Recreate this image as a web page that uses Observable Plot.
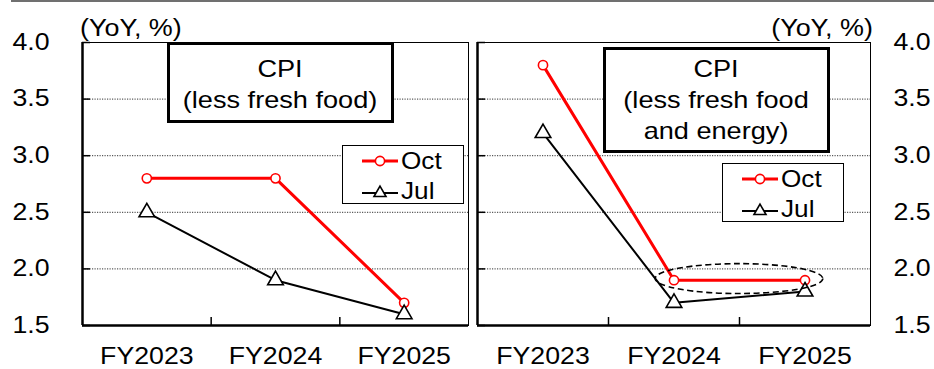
<!DOCTYPE html>
<html>
<head>
<meta charset="utf-8">
<script src="https://cdn.jsdelivr.net/npm/d3@7"></script>
<script src="https://cdn.jsdelivr.net/npm/@observablehq/plot@0.6"></script>
<style>
  html, body { margin: 0; padding: 0; background: #fff; }
  #root { position: relative; width: 934px; height: 369px; overflow: hidden; font-family: "Liberation Sans", Arial, sans-serif; color: #000; }
  .abs { position: absolute; }
  .unit { font-size: 23px; line-height: 23px; white-space: nowrap; }
  .unit span { display: inline-block; }
  .tbox { background: #fff; border: 3px solid #000; box-sizing: border-box; text-align: center; font-size: 24px; line-height: 31px; }
  .tbox span { display: inline-block; transform: scaleX(1.13); transform-origin: 50% 50%; white-space: nowrap; }
  .lgd { background: #fff; border: 1px solid #000; box-sizing: border-box; font-size: 24px; line-height: 30px; }
  .row { display: flex; align-items: center; height: 30px; }
  .row svg { margin-right: 3px; flex: none; }
  .row span { display: inline-block; transform: scaleX(1.09); transform-origin: 0 50%; }
</style>
</head>
<body>
<div id="root"></div>
<script>
// ---- data ----
const categories = ["FY2023", "FY2024", "FY2025"];
const yTicks = [1.5, 2.0, 2.5, 3.0, 3.5, 4.0];
const seriesNames = ["Oct", "Jul"];
const octLessFresh = [2.8, 2.8, 1.7];
const julLessFresh = [2.5, 1.9, 1.6];
const octCore = [3.8, 1.9, 1.9];
const julCore = [3.2, 1.7, 1.8];
const unitLabel = "(YoY, %)";
const titleLeft = ["CPI", "(less fresh food)"];
const titleRight = ["CPI", "(less fresh food", "and energy)"];

const root = document.getElementById("root");
const toRows = (vals) => vals.map((v, i) => ({i, v}));

function panel({oct, jul, width, marginLeft, marginRight, anchor, tickPadding}) {
  const marginTop = 42, marginBottom = 44, height = 369;
  const plotW = width - marginLeft - marginRight;
  const plotH = height - marginTop - marginBottom;
  return Plot.plot({
    width, height, marginTop, marginBottom, marginLeft, marginRight,
    style: {fontFamily: "'Liberation Sans', Arial, sans-serif", fontSize: "23px", color: "#000", background: "transparent", overflow: "visible"},
    x: {domain: [-0.5, 2.5], label: null},
    y: {domain: [1.5, 4.0], label: null},
    marks: [
      Plot.gridY(yTicks.slice(1, -1), {stroke: "#333", strokeOpacity: 1, strokeDasharray: "1.2,1.3", strokeWidth: 1}),
      Plot.frame({stroke: "#000", strokeWidth: 1}),
      Plot.ruleX([-0.5], {stroke: "#000", strokeWidth: 2.5}),
      Plot.ruleY([1.5], {stroke: "#000", strokeWidth: 2.5}),
      Plot.tickY(yTicks, {y: d => d, insetRight: plotW - 8, stroke: "#000", strokeWidth: 1.5}),
      Plot.tickX([0.5, 1.5], {x: d => d, insetTop: plotH - 8, stroke: "#000", strokeWidth: 1.5}),
      Plot.axisY(yTicks, {anchor, label: null, tickSize: 0, tickPadding, tickFormat: d3.format(".1f"), fontSize: 23}),
      Plot.axisX([0, 1, 2], {label: null, tickSize: 0, tickPadding: 22, tickFormat: i => categories[i], fontSize: 23}),
      Plot.line(toRows(oct), {x: "i", y: "v", stroke: "#f00", strokeWidth: 3}),
      Plot.line(toRows(jul), {x: "i", y: "v", stroke: "#000", strokeWidth: 2}),
      Plot.dot(toRows(oct), {x: "i", y: "v", r: 4.6, fill: "#fff", stroke: "#f00", strokeWidth: 1.6}),
      Plot.dot(toRows(jul), {x: "i", y: "v", symbol: "triangle", r: 5.8, fill: "#fff", stroke: "#000", strokeWidth: 1.6})
    ]
  });
}

// widen glyphs of the axis labels to match the reference's wide lettering
function stretchTexts(svg, f) {
  svg.querySelectorAll("text").forEach(t => {
    const L = t.getComputedTextLength();
    if (L > 0) {
      t.setAttribute("textLength", (L * f).toFixed(2));
      t.setAttribute("lengthAdjust", "spacingAndGlyphs");
    }
  });
}

// top rule
const topRule = document.createElement("div");
topRule.className = "abs";
Object.assign(topRule.style, {left: "11px", top: "0px", width: "923px", height: "2px", background: "#707070"});
root.appendChild(topRule);

// left panel
const left = panel({oct: octLessFresh, jul: julLessFresh, width: 470, marginLeft: 82, marginRight: 2, anchor: "left", tickPadding: 33});
left.style.position = "absolute"; left.style.left = "0px"; left.style.top = "0px";
root.appendChild(left);
stretchTexts(left, 1.16);

// right panel
const right = panel({oct: octCore, jul: julCore, width: 464, marginLeft: 7, marginRight: 64, anchor: "right", tickPadding: 23});
right.style.position = "absolute"; right.style.left = "470px"; right.style.top = "0px";
root.appendChild(right);
stretchTexts(right, 1.16);

// dashed ellipse around Oct FY2024-FY2025 (positioned through the panel's scales)
{
  const sx = right.scale("x"), sy = right.scale("y");
  const cx = sx.apply(1.5), cy = sy.apply(1.91);
  const rx = sx.apply(1.5 + 0.64) - cx;
  const ry = sy.apply(1.91) - sy.apply(1.91 + 0.132);
  d3.select(right).append("ellipse")
    .attr("cx", cx).attr("cy", cy).attr("rx", rx).attr("ry", ry)
    .attr("fill", "none").attr("stroke", "#000").attr("stroke-width", 1.6)
    .attr("stroke-dasharray", "6,3.5");
}

// overlays
function addDiv(cls, styles, html) {
  const d = document.createElement("div");
  d.className = "abs " + cls;
  Object.assign(d.style, styles);
  d.innerHTML = html;
  root.appendChild(d);
  return d;
}
addDiv("unit", {left: "80px", top: "17px"}, `<span style="transform:scaleX(1.17);transform-origin:0 50%">${unitLabel}</span>`);
addDiv("unit", {right: "61px", top: "17px"}, `<span style="transform:scaleX(1.17);transform-origin:100% 50%">${unitLabel}</span>`);

// title boxes
addDiv("tbox", {left: "167px", top: "42px", width: "227px", height: "81px", paddingTop: "8px"}, titleLeft.map(s => `<span>${s}</span>`).join("<br>"));
addDiv("tbox", {left: "603px", top: "47px", width: "227px", height: "106px", paddingTop: "3px"}, titleRight.map(s => `<span>${s}</span>`).join("<br>"));

// legends
function swatch(kind) {
  if (kind === "Oct") {
    return `<svg width="36" height="14"><line x1="0" y1="7" x2="36" y2="7" stroke="#f00" stroke-width="3"/><circle cx="18" cy="7" r="4.6" fill="#fff" stroke="#f00" stroke-width="1.6"/></svg>`;
  }
  return `<svg width="36" height="14"><line x1="0" y1="9" x2="36" y2="9" stroke="#000" stroke-width="2"/><path d="M18,2.2 L24,12.5 L12,12.5 Z" fill="#fff" stroke="#000" stroke-width="1.6"/></svg>`;
}
function legend(l, t) {
  const html = seriesNames.map(n => `<div class="row">${swatch(n)}<span>${n}</span></div>`).join("");
  addDiv("lgd", {left: l + "px", top: t + "px", width: "122px", height: "59px", paddingLeft: "19px", paddingTop: "0px"}, html);
}
legend(342, 145);
legend(722, 163);
</script>
</body>
</html>
